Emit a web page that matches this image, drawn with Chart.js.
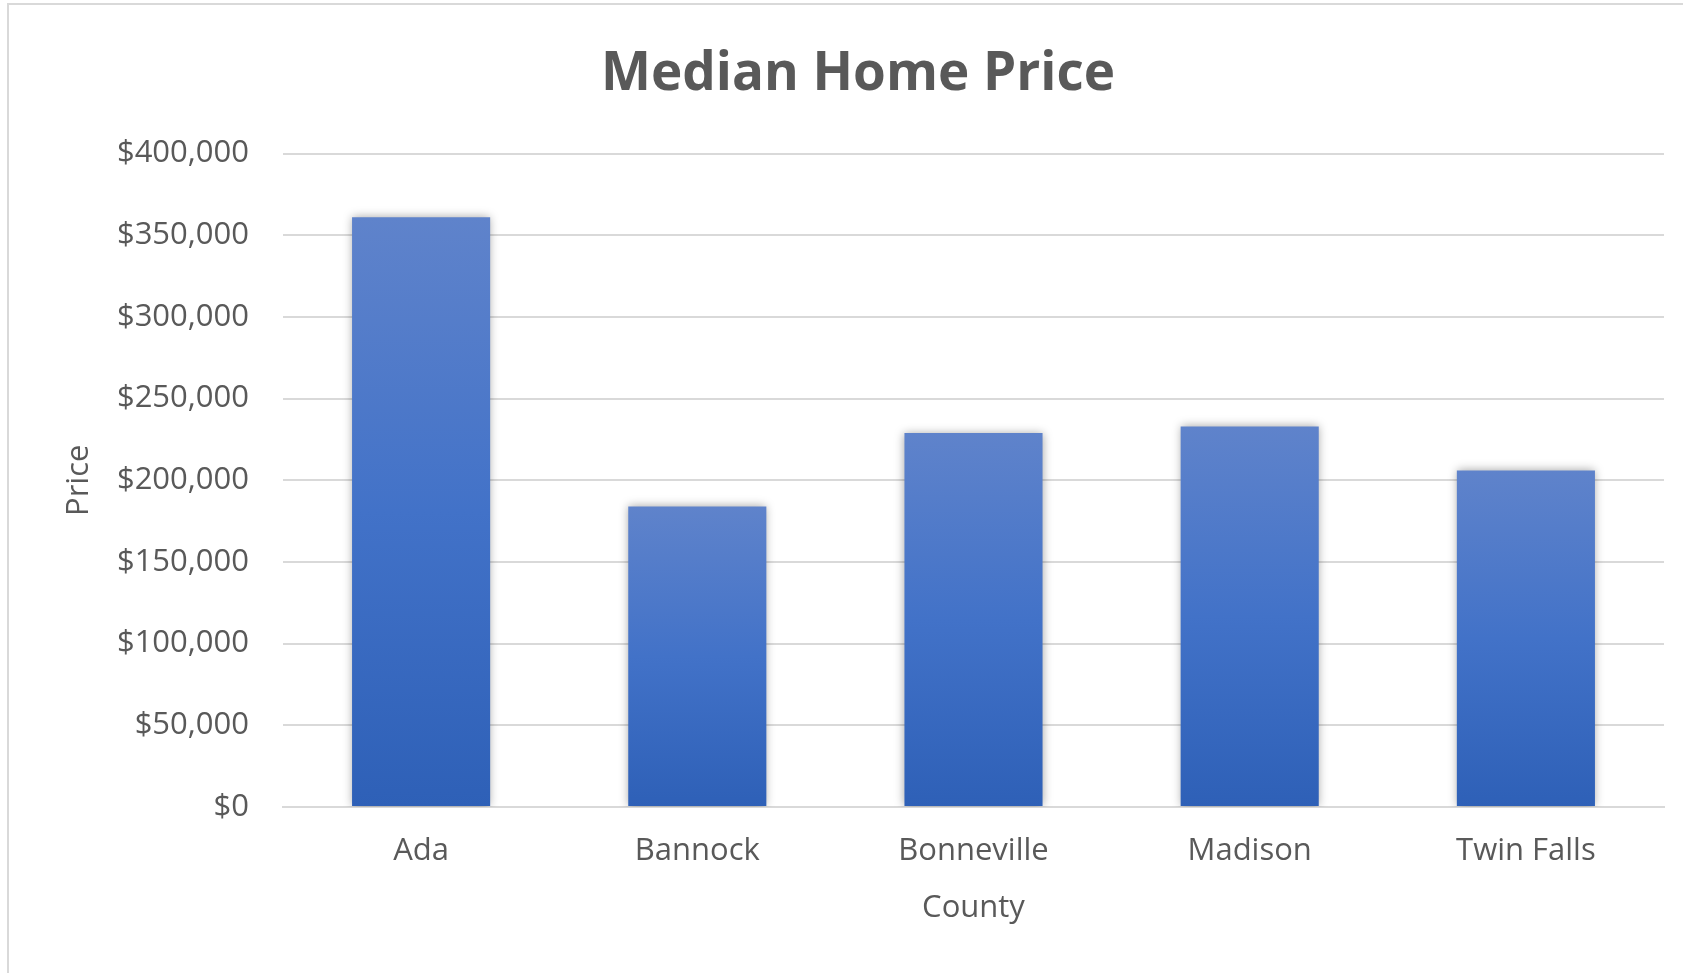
<!DOCTYPE html>
<html>
<head>
<meta charset="utf-8">
<title>Median Home Price</title>
<script src="https://cdn.jsdelivr.net/npm/chart.js@4.4.1/dist/chart.umd.min.js"></script>
<style>
  html, body { margin: 0; padding: 0; background: #fff; overflow: hidden; }
  #wrap { position: relative; width: 1683px; height: 973px; }
  #frame {
    position: absolute; left: 7px; top: 3px; width: 1700px; height: 1000px;
    border-left: 2px solid #d9d9d9; border-top: 2px solid #d9d9d9;
  }
  canvas { position: absolute; left: 0; top: 0; }
</style>
</head>
<body>
<div id="wrap">
  <div id="frame"></div>
  <canvas id="chart1" width="1683" height="973"></canvas>
</div>
<script>
// data
var counties = ["Ada", "Bannock", "Bonneville", "Madison", "Twin Falls"]
var prices   = [361000, 184000, 229000, 233000, 206000]
var yTicks   = [0, 50000, 100000, 150000, 200000, 250000, 300000, 350000, 400000]

const textColor = "#595959"
const gridColor = "#d9d9d9"

Chart.defaults.font.family = "'Open Sans', sans-serif"
Chart.defaults.color = textColor

// each bar gets its own top-to-bottom gradient, like the excel style
function barFill(context) {
  const chart = context.chart
  const yScale = chart.scales.y
  if (!chart.chartArea || !yScale) return "#4472c4"
  const v = prices[context.dataIndex]
  const top = yScale.getPixelForValue(v)
  const bottom = yScale.getPixelForValue(0)
  const g = chart.ctx.createLinearGradient(0, top, 0, bottom)
  g.addColorStop(0, "rgb(95,131,203)")
  g.addColorStop(0.5, "rgb(66,114,200)")
  g.addColorStop(1, "rgb(46,96,183)")
  return g
}

// soft shadow behind the bars
const barShadow = {
  id: "barShadow",
  beforeDatasetsDraw: function(chart) {
    const ctx = chart.ctx
    ctx.save()
    ctx.shadowColor = "rgba(0,0,0,0.35)"
    ctx.shadowBlur = 9
    ctx.shadowOffsetX = 0
    ctx.shadowOffsetY = 0
  },
  afterDatasetsDraw: function(chart) {
    chart.ctx.restore()
  }
}

const data = {
  labels: counties,
  datasets: [{
    label: "Price",
    data: prices,
    backgroundColor: barFill,
    borderWidth: 0,
    barPercentage: 0.5,
    categoryPercentage: 1.0
  }]
}

const config = {
  type: "bar",
  data: data,
  plugins: [barShadow],
  options: {
    responsive: false,
    animation: false,
    layout: { padding: { left: 52, right: 19, top: 0, bottom: 0 } },
    plugins: {
      legend: { display: false },
      tooltip: { enabled: false },
      title: {
        display: true,
        text: "Median Home Price",
        color: textColor,
        font: { size: 53, weight: "bold" },
        padding: { top: 43, bottom: 47 }
      }
    },
    scales: {
      x: {
        grid: { display: false, drawTicks: false },
        border: { display: true, color: gridColor, width: 2 },
        ticks: { font: { size: 31 }, color: textColor, padding: 26 },
        title: {
          display: true,
          text: "County",
          color: textColor,
          font: { size: 31 },
          padding: { top: 0, bottom: 46 }
        },
        afterFit: function(scale) { scale.height = 166 }
      },
      y: {
        min: 0,
        max: 400000,
        afterBuildTicks: function(scale) {
          scale.ticks = yTicks.map(function(v) { return { value: v } })
        },
        grid: { color: gridColor, lineWidth: 2, drawTicks: false },
        border: { display: false },
        ticks: {
          font: { size: 31 },
          color: textColor,
          padding: 34,
          callback: function(v) { return "$" + Number(v).toLocaleString("en-US") }
        },
        title: {
          display: true,
          text: "Price",
          color: textColor,
          font: { size: 31 },
          padding: { top: 9, bottom: 0 }
        },
        afterFit: function(scale) { scale.width = 231 }
      }
    }
  }
}

const myChart = new Chart(document.getElementById("chart1").getContext("2d"), config)
</script>
</body>
</html>
